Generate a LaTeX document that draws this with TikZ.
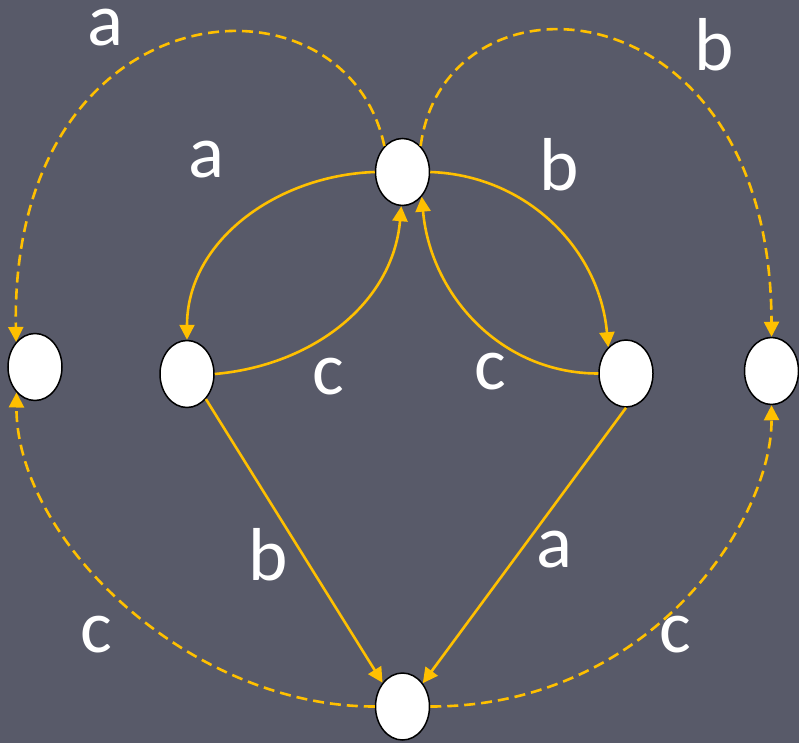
\documentclass[tikz,border=0pt]{standalone}
\usepackage{fontspec}
\setmainfont{Carlito}
\usetikzlibrary{shapes.geometric,arrows.meta}
\definecolor{bgc}{RGB}{88,90,105}
\definecolor{arrc}{RGB}{255,192,0}
\tikzset{
  state/.style={ellipse,draw=black,fill=white,line width=1.5pt,minimum width=54pt,minimum height=67pt,inner sep=0pt},
  trans/.style={draw=arrc,line width=2.6pt,-{Triangle[length=15pt,width=15pt]}},
  dtrans/.style={trans,dash pattern=on 11pt off 6pt},
  lbl/.style={text=white,inner sep=0pt,font=\fontsize{75}{80}\selectfont}
}
\begin{document}
\begin{tikzpicture}[x=1pt,y=-1pt]
\fill[bgc] (0,0) rectangle (799,743);
\useasboundingbox (0,0) rectangle (799,743);
\node[state] (top) at (402.5,172) {};
\node[state] (lo) at (35,367) {};
\node[state] (li) at (187,374) {};
\node[state] (ri) at (626,373.5) {};
\node[state] (ro) at (771.5,371) {};
\node[state] (bo) at (402.5,706.5) {};
% solid transitions
\draw[trans] (top.west) to[out=182,in=90] (li.north);
\draw[trans] (li.east) to[out=5,in=-95] (top.-92);
\draw[trans] (top.east) to[out=-2,in=95] (ri.124);
\draw[trans] (ri.west) to[out=180,in=-85] (top.-52);
\draw[trans] (li.-53) -- (bo.130);
\draw[trans] (ri.south) -- (bo.49);
% dashed transitions
\draw[dtrans] (top.125) .. controls (345,-40) and (10,-15) .. (lo.127);
\draw[dtrans] (top.55) .. controls (445,-40) and (771,-20) .. (ro.north);
\draw[dtrans] (bo.west) .. controls (190,707) and (16,540) .. (lo.-126);
\draw[dtrans] (bo.east) .. controls (650,707) and (772,520) .. (ro.south);
% labels
\node[lbl] (l1) at (105,28) {a};
\node[lbl] (l2) at (206,160) {a};
\node[lbl] (l3) at (714,45) {b};
\node[lbl] (l4) at (559,165) {b};
\node[lbl] (l5) at (328,377) {c};
\node[lbl] (l6) at (490,372) {c};
\node[lbl] (l7) at (268,555) {b};
\node[lbl] (l8) at (554,550) {a};
\node[lbl] (l9) at (96,635) {c};
\node[lbl] (l10) at (675,635) {c};
\end{tikzpicture}
\end{document}
